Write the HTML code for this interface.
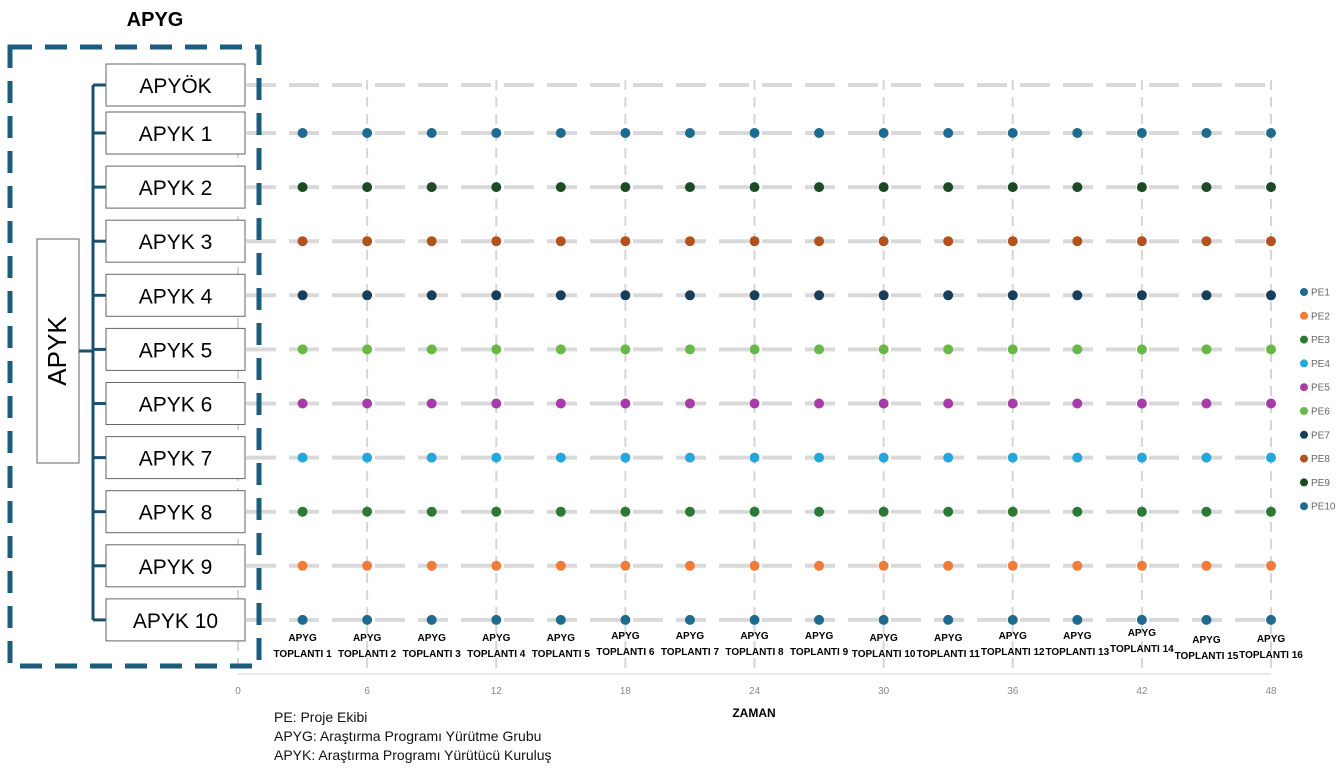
<!DOCTYPE html>
<html><head><meta charset="utf-8"><style>
html,body{margin:0;padding:0;background:#fff;}
svg{display:block;font-family:"Liberation Sans",sans-serif;}
</style></head><body>
<svg id="chart" width="1342" height="768" viewBox="0 0 1342 768">
<g id="grid"></g>
<g id="rows"></g>
<g id="org">
<text x="155" y="26" font-size="20" font-weight="bold" text-anchor="middle">APYG</text>
<rect x="10" y="47" width="249" height="619" fill="none" stroke="#1c5d7b" stroke-width="5" stroke-dasharray="22 13"/>
<rect x="37" y="239" width="42" height="224" fill="#fff" stroke="#666" stroke-width="1"/>
<text transform="translate(66,351) rotate(-90)" font-size="26" text-anchor="middle">APYK</text>
<line x1="79" y1="351" x2="93" y2="351" stroke="#1c4f6b" stroke-width="3"/>
<line x1="93" y1="85" x2="93" y2="620" stroke="#1c4f6b" stroke-width="3"/>
</g>
<g id="pts"></g>
<g id="xlab"></g>
<g id="axis"></g>
<g id="legend"></g>
<text x="754" y="717" font-size="12" font-weight="bold" text-anchor="middle">ZAMAN</text>
<g font-size="14" fill="#111">
<text x="274" y="722">PE: Proje Ekibi</text>
<text x="274" y="741">APYG: Araştırma Programı Yürütme Grubu</text>
<text x="274" y="760">APYK: Araştırma Programı Yürütücü Kuruluş</text>
</g>
</svg>
<script>
const rowLabels=["APYÖK","APYK 1","APYK 2","APYK 3","APYK 4","APYK 5","APYK 6","APYK 7","APYK 8","APYK 9","APYK 10"];
const rowTeam=[null,"PE1","PE9","PE8","PE7","PE6","PE5","PE4","PE3","PE2","PE10"];
const meetingTimes=[3,6,9,12,15,18,21,24,27,30,33,36,39,42,45,48];
const meetingLabelShift=[0,0,0,0,0,-2,-2,-2,-2,0,0,-2,-2,-5,2,1];
const xTicks=[0,6,12,18,24,30,36,42,48];
const legendTeams=["PE1","PE2","PE3","PE4","PE5","PE6","PE7","PE8","PE9","PE10"];
const teamColors=["#1f6a8f","#f07c3a","#2a7a33","#22a7df","#a63ba9","#68b845","#173e5a","#b2521e","#1b4a25","#1f6a8f"];

const NS="http://www.w3.org/2000/svg";
const xS=v=>238+v*(1033/48);
const yS=i=>i===0?85:133+(i-1)*54.1;
function mk(p,t,a){const e=document.createElementNS(NS,t);for(const k in a)e.setAttribute(k,a[k]);p.appendChild(e);return e;}
const colorOf=pe=>teamColors[legendTeams.indexOf(pe)];

const grid=document.getElementById('grid');
xTicks.forEach(t=>{
  const l=mk(grid,'line',{x1:xS(t),x2:xS(t),y1:80,y2:672,stroke:'#d6d6d6','stroke-width':2,'stroke-dasharray':'10 7'});
  
  
});
const rows=document.getElementById('rows'),org=document.getElementById('org'),pts=document.getElementById('pts');
rowLabels.forEach((lab,i)=>{
  const y=yS(i);
  const rl=mk(rows,'line',{x1:246,x2:1278,y1:y,y2:y,stroke:'#d9d9d9','stroke-width':4,'stroke-dasharray':'30 13'});
  
  
  const br=mk(org,'line',{x1:93,x2:106,y1:y,y2:y,stroke:'#1c4f6b','stroke-width':3});
  
  
  const b=mk(org,'rect',{x:106,y:y-21,width:139,height:42,fill:'#fff',stroke:'#666','stroke-width':1});
  
  
  const tx=mk(org,'text',{x:175.5,y:y+8,'font-size':21,'text-anchor':'middle'});
  tx.textContent=lab;
  
  
  if(rowTeam[i]){
    meetingTimes.forEach(t=>{
      const c=mk(pts,'circle',{cx:xS(t),cy:y,r:5,fill:colorOf(rowTeam[i])});
      
      
    });
  }
});
const xl=document.getElementById('xlab');
meetingTimes.forEach((t,i)=>{
  const g=mk(xl,'text',{x:xS(t),y:641+meetingLabelShift[i],'font-size':10,'font-weight':'bold','text-anchor':'middle'});
  g.textContent='APYG';
  
  
  const g2=mk(xl,'text',{x:xS(t),y:657+meetingLabelShift[i],'font-size':10,'font-weight':'bold','text-anchor':'middle'});
  g2.textContent='TOPLANTI '+(i+1);
  
  
});
const ax=document.getElementById('axis');
const al=mk(ax,'line',{x1:238,x2:1271,y1:674,y2:674,stroke:'#e2e2e2','stroke-width':1.5});


xTicks.forEach(t=>{
  const e=mk(ax,'text',{x:xS(t),y:694,'font-size':10,fill:'#888','text-anchor':'middle'});
  e.textContent=t;
  
  
});
const lg=document.getElementById('legend');
legendTeams.forEach((pe,i)=>{
  const y=292+i*23.8;
  const c=mk(lg,'circle',{cx:1304,cy:y,r:4,fill:teamColors[i]});
  
  
  const t=mk(lg,'text',{x:1311,y:y+3.5,'font-size':10,fill:'#666'});
  t.textContent=pe;
  
  
});
</script>
</body></html>
